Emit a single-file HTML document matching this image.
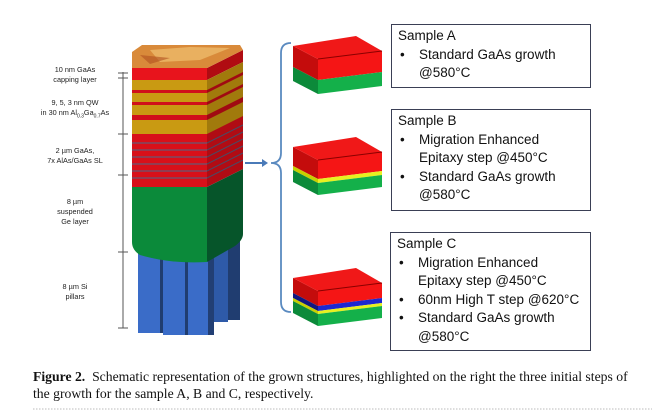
<!DOCTYPE html>
<html><head><style>
body{margin:0;background:#fff;width:665px;height:418px;overflow:hidden;position:relative;font-family:"Liberation Sans",sans-serif}
.box{position:absolute;border:1.5px solid #3a3f55;background:#fff;font-family:"Liberation Sans",sans-serif;font-size:13.5px;line-height:18.5px;color:#111;padding:2px 0 0 6px;box-sizing:border-box;white-space:nowrap}
.box .b{padding-left:21px;text-indent:-21px}
.box .b span{display:inline-block;width:21px;text-indent:0;padding-left:2px;box-sizing:border-box}
.lbl{position:absolute;font-size:7.3px;line-height:10px;text-align:center;color:#222;width:90px}
.cap{position:absolute;left:33px;top:369px;font-family:"Liberation Serif",serif;font-size:13.7px;line-height:16.5px;color:#111;white-space:nowrap}
</style></head><body>
<svg width="665" height="418" style="position:absolute;left:0;top:0">
<rect x="214" y="240" width="14" height="82" fill="#2e5aa8"/><rect x="228" y="238" width="12" height="82" fill="#203d70"/>
<rect x="138" y="253" width="22" height="80" fill="#3a6cc8"/><rect x="160" y="253" width="3" height="80" fill="#203d70"/>
<rect x="163" y="253" width="22" height="82" fill="#3a6cc8"/><rect x="185" y="253" width="3" height="82" fill="#203d70"/>
<rect x="188" y="253" width="20" height="82" fill="#3a6cc8"/><rect x="208" y="250" width="6" height="85" fill="#223f74"/>
<rect x="132" y="68" width="75" height="12" fill="#e8141c"/>
<rect x="132" y="80" width="75" height="55" fill="#c99a12"/>
<rect x="132" y="90" width="75" height="3" fill="#d0101a"/>
<rect x="132" y="102" width="75" height="3" fill="#d0101a"/>
<rect x="132" y="115" width="75" height="5" fill="#d0101a"/>
<rect x="132" y="134" width="75" height="53" fill="#d8101a"/>
<g stroke="#4a6a8a" stroke-width="1"><line x1="132" y1="143" x2="207" y2="143"/><line x1="132" y1="150" x2="207" y2="150"/><line x1="132" y1="157" x2="207" y2="157"/><line x1="132" y1="164" x2="207" y2="164"/><line x1="132" y1="171" x2="207" y2="171"/><line x1="132" y1="178" x2="207" y2="178"/></g>
<path d="M132 187 H207 V262 Q170 264 140 255 Q132 250 132 242 Z" fill="#0b8a3a"/>
<g transform="translate(207,0) skewY(-26.57)">
<rect x="0" y="68" width="36" height="12" fill="#b00c12"/>
<rect x="0" y="80" width="36" height="55" fill="#a17a0c"/>
<rect x="0" y="90" width="36" height="3" fill="#a00a12"/>
<rect x="0" y="102" width="36" height="3" fill="#a00a12"/>
<rect x="0" y="115" width="36" height="5" fill="#a00a12"/>
<rect x="0" y="134" width="36" height="53" fill="#b00c14"/>
<g stroke="#3a5570" stroke-width="1"><line x1="0" y1="143" x2="36" y2="143"/><line x1="0" y1="150" x2="36" y2="150"/><line x1="0" y1="157" x2="36" y2="157"/><line x1="0" y1="164" x2="36" y2="164"/><line x1="0" y1="171" x2="36" y2="171"/><line x1="0" y1="178" x2="36" y2="178"/></g>
<path d="M0 187 H36 V252 Q36 258 28 260 L0 262 Z" fill="#06552a"/>
</g>
<polygon points="132,68 207,68 243,50 240,45 142,45 132,52" fill="#d98a3a"/>
<polygon points="150,50 190,47 230,48 200,60 160,62" fill="#f0c070" opacity="0.7"/>
<polygon points="140,55 170,58 150,64" fill="#b05020" opacity="0.6"/>
<g stroke="#555" stroke-width="1"><line x1="123" y1="72" x2="123" y2="328"/>
<line x1="118" y1="73" x2="128" y2="73"/><line x1="118" y1="78" x2="128" y2="78"/><line x1="118" y1="134" x2="128" y2="134"/><line x1="118" y1="175" x2="128" y2="175"/><line x1="118" y1="252" x2="128" y2="252"/><line x1="118" y1="328" x2="128" y2="328"/></g>
<line x1="245" y1="163" x2="262" y2="163" stroke="#4a7ab8" stroke-width="2"/>
<polygon points="262,159 268,163 262,167" fill="#4a7ab8"/>
<path d="M291 43 Q281 43 281 53 L281 153 Q281 163 271 163 Q281 163 281 173 L281 302 Q281 312 291 312" fill="none" stroke="#5a8ac0" stroke-width="1.8"/>
<defs>
<g id="top"><polygon points="293,278 356,268 382,283 318,291" fill="#f01818"/><line x1="318" y1="291" x2="382" y2="283" stroke="#8a0000" stroke-width="1"/></g>
</defs>
<g transform="translate(0,-232)">
<polygon points="293,278 318,291 318,312 293,299" fill="#c40c0c"/><polygon points="318,291 382,283 382,304 318,312" fill="#f51515"/>
<polygon points="293,299 318,312 318,326 293,313" fill="#0c8a3a"/><polygon points="318,312 382,304 382,318 318,326" fill="#14b04a"/>
<use href="#top"/></g>
<g transform="translate(0,-131)">
<polygon points="293,278 318,291 318,310 293,297" fill="#c40c0c"/><polygon points="318,291 382,283 382,302 318,310" fill="#f51515"/>
<polygon points="293,297 318,310 318,314 293,301" fill="#c8d000"/><polygon points="318,310 382,302 382,306 318,314" fill="#e8f020"/>
<polygon points="293,301 318,314 318,326 293,313" fill="#0c8a3a"/><polygon points="318,314 382,306 382,318 318,326" fill="#14b04a"/>
<use href="#top"/></g>
<g>
<polygon points="293,278 318,291 318,306 293,293" fill="#c40c0c"/><polygon points="318,291 382,283 382,298 318,306" fill="#f51515"/>
<polygon points="293,293 318,306 318,311 293,298" fill="#101880"/><polygon points="318,306 382,298 382,303 318,311" fill="#1c28d0"/>
<polygon points="293,298 318,311 318,314 293,301" fill="#c8d000"/><polygon points="318,311 382,303 382,306 318,314" fill="#e8f020"/>
<polygon points="293,301 318,314 318,326 293,313" fill="#0c8a3a"/><polygon points="318,314 382,306 382,318 318,326" fill="#14b04a"/>
<use href="#top"/></g>
<line x1="33" y1="409" x2="652" y2="409" stroke="#bbb" stroke-width="1" stroke-dasharray="1.5,1.5"/>
</svg>
<div class="lbl" style="left:30px;top:65px">10 nm GaAs<br>capping layer</div>
<div class="lbl" style="left:30px;top:98px">9, 5, 3 nm QW<br>in 30 nm Al<sub style="font-size:5px">0.3</sub>Ga<sub style="font-size:5px">0.7</sub>As</div>
<div class="lbl" style="left:30px;top:146px">2 µm GaAs,<br>7x AlAs/GaAs SL</div>
<div class="lbl" style="left:30px;top:197px">8 µm<br>suspended<br>Ge layer</div>
<div class="lbl" style="left:30px;top:282px">8 µm Si<br>pillars</div>
<div class="box" style="left:391px;top:24px;width:200px;height:64px">Sample A<div class="b"><span>•</span>Standard GaAs growth<br>@580°C</div></div>
<div class="box" style="left:391px;top:109px;width:200px;height:102px">Sample B<div class="b"><span>•</span>Migration Enhanced<br>Epitaxy step @450°C</div><div class="b"><span>•</span>Standard GaAs growth<br>@580°C</div></div>
<div class="box" style="left:390px;top:232px;width:201px;height:119px">Sample C<div class="b"><span>•</span>Migration Enhanced<br>Epitaxy step @450°C</div><div class="b"><span>•</span>60nm High T step @620°C</div><div class="b"><span>•</span>Standard GaAs growth<br>@580°C</div></div>
<div class="cap"><b>Figure 2.</b>&nbsp; Schematic representation of the grown structures, highlighted on the right the three initial steps of<br>the growth for the sample A, B and C, respectively.</div>
</body></html>
